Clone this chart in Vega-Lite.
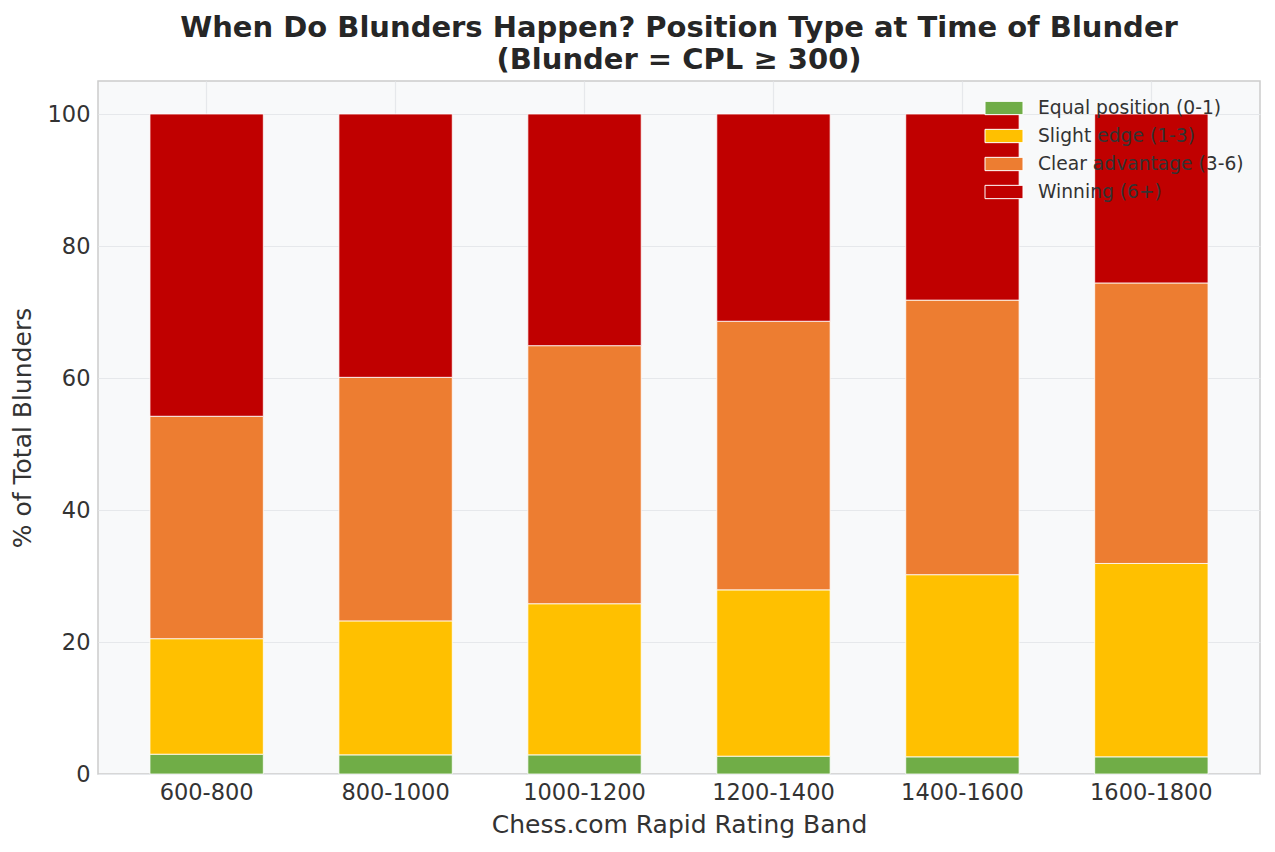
{
  "$schema": "https://vega.github.io/schema/vega-lite/v6.json",
  "autosize": {"type": "none"},
  "width": 1162,
  "height": 693,
  "padding": {"left": 98, "top": 81, "right": 15, "bottom": 78},
  "background": "white",
  "title": {
    "text": ["When Do Blunders Happen? Position Type at Time of Blunder", "(Blunder = CPL ≥ 300)"],
    "anchor": "middle",
    "font": "DejaVu Sans",
    "fontSize": 29,
    "fontWeight": "bold",
    "color": "#262626",
    "lineHeight": 32,
    "offset": 6
  },
  "data": {
    "values": [
      {"band": "600-800", "position": "Equal position (0-1)", "k": 0, "pct": 3.0},
      {"band": "600-800", "position": "Slight edge (1-3)", "k": 1, "pct": 17.5},
      {"band": "600-800", "position": "Clear advantage (3-6)", "k": 2, "pct": 33.7},
      {"band": "600-800", "position": "Winning (6+)", "k": 3, "pct": 45.8},
      {"band": "800-1000", "position": "Equal position (0-1)", "k": 0, "pct": 2.9},
      {"band": "800-1000", "position": "Slight edge (1-3)", "k": 1, "pct": 20.3},
      {"band": "800-1000", "position": "Clear advantage (3-6)", "k": 2, "pct": 36.9},
      {"band": "800-1000", "position": "Winning (6+)", "k": 3, "pct": 39.9},
      {"band": "1000-1200", "position": "Equal position (0-1)", "k": 0, "pct": 2.9},
      {"band": "1000-1200", "position": "Slight edge (1-3)", "k": 1, "pct": 22.9},
      {"band": "1000-1200", "position": "Clear advantage (3-6)", "k": 2, "pct": 39.1},
      {"band": "1000-1200", "position": "Winning (6+)", "k": 3, "pct": 35.1},
      {"band": "1200-1400", "position": "Equal position (0-1)", "k": 0, "pct": 2.7},
      {"band": "1200-1400", "position": "Slight edge (1-3)", "k": 1, "pct": 25.2},
      {"band": "1200-1400", "position": "Clear advantage (3-6)", "k": 2, "pct": 40.7},
      {"band": "1200-1400", "position": "Winning (6+)", "k": 3, "pct": 31.4},
      {"band": "1400-1600", "position": "Equal position (0-1)", "k": 0, "pct": 2.6},
      {"band": "1400-1600", "position": "Slight edge (1-3)", "k": 1, "pct": 27.6},
      {"band": "1400-1600", "position": "Clear advantage (3-6)", "k": 2, "pct": 41.6},
      {"band": "1400-1600", "position": "Winning (6+)", "k": 3, "pct": 28.2},
      {"band": "1600-1800", "position": "Equal position (0-1)", "k": 0, "pct": 2.6},
      {"band": "1600-1800", "position": "Slight edge (1-3)", "k": 1, "pct": 29.3},
      {"band": "1600-1800", "position": "Clear advantage (3-6)", "k": 2, "pct": 42.5},
      {"band": "1600-1800", "position": "Winning (6+)", "k": 3, "pct": 25.6}
    ]
  },
  "mark": {"type": "bar", "stroke": "white", "strokeWidth": 0.8},
  "encoding": {
    "x": {
      "field": "band",
      "type": "nominal",
      "sort": null,
      "title": "Chess.com Rapid Rating Band",
      "scale": {"paddingInner": 0.4, "paddingOuter": 0.275},
      "axis": {"labelAngle": 0, "grid": true, "ticks": false, "domain": false, "labelPadding": 7, "titlePadding": 9}
    },
    "y": {
      "field": "pct",
      "type": "quantitative",
      "stack": "zero",
      "title": "% of Total Blunders",
      "scale": {"domain": [0, 105], "nice": false},
      "axis": {"values": [0, 20, 40, 60, 80, 100], "ticks": false, "domain": false, "labelPadding": 8, "titlePadding": 12}
    },
    "color": {
      "field": "position",
      "type": "nominal",
      "sort": ["Equal position (0-1)", "Slight edge (1-3)", "Clear advantage (3-6)", "Winning (6+)"],
      "scale": {
        "domain": ["Equal position (0-1)", "Slight edge (1-3)", "Clear advantage (3-6)", "Winning (6+)"],
        "range": ["#70ad47", "#ffc000", "#ed7d31", "#c00000"]
      },
      "legend": {
        "title": null,
        "orient": "none",
        "legendX": 896,
        "legendY": 17,
        "symbolType": "M-2,-0.7H2V0.7H-2Z",
        "symbolSize": 361,
        "symbolStrokeColor": "white",
        "symbolStrokeWidth": 1,
        "symbolOpacity": 1,
        "labelFontSize": 18.7,
        "labelColor": "#333333",
        "labelFont": "DejaVu Sans",
        "labelOffset": 24,
        "rowPadding": 8,
        "labelLimit": 400
      }
    },
    "order": {"field": "k", "type": "quantitative"}
  },
  "config": {
    "font": "DejaVu Sans",
    "view": {"fill": "#f8f9fa", "stroke": "#cccccc", "strokeWidth": 1.5},
    "axis": {
      "labelFont": "DejaVu Sans",
      "labelFontSize": 22.5,
      "labelColor": "#333333",
      "titleFont": "DejaVu Sans",
      "titleFontSize": 25,
      "titleFontWeight": "normal",
      "titleColor": "#333333",
      "gridColor": "#e6e8eb",
      "gridWidth": 1.2
    }
  }
}
